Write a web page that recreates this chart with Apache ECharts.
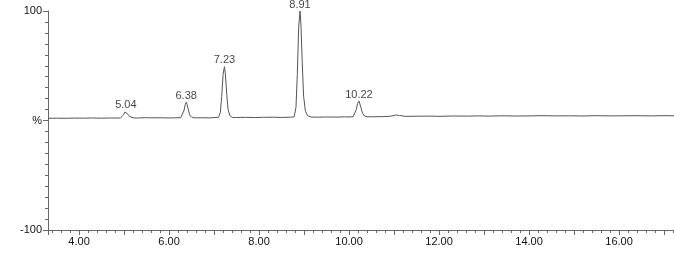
<!DOCTYPE html>
<html>
<head>
<meta charset="utf-8">
<script src="https://cdn.jsdelivr.net/npm/echarts@6/dist/echarts.min.js"></script>
<style>
html,body{margin:0;padding:0;background:#fff;}
#c{width:674px;height:255px;}
</style>
</head>
<body>
<div id="c"></div>
<script>
// Retention time (min) and signal (%)
var times = [
  3.31, 3.5, 3.7, 3.9, 4.1, 4.3, 4.5, 4.7, 4.85,
  4.92, 4.96, 4.99, 5.02, 5.04, 5.06, 5.09, 5.12, 5.16, 5.22,
  5.3, 5.5, 5.6, 5.8, 6.0, 6.15,
  6.26, 6.30, 6.33, 6.36, 6.38, 6.40, 6.43, 6.46, 6.50, 6.56,
  6.7, 6.9, 7.02,
  7.10, 7.14, 7.17, 7.20, 7.23, 7.25, 7.28, 7.31, 7.35, 7.41,
  7.5, 7.7, 7.9, 8.1, 8.3, 8.5, 8.7,
  8.78, 8.82, 8.85, 8.88, 8.91, 8.93, 8.96, 8.99, 9.03, 9.08, 9.15,
  9.3, 9.5, 9.7, 9.9, 10.0,
  10.09, 10.13, 10.16, 10.19, 10.22, 10.24, 10.27, 10.30, 10.34, 10.40,
  10.5, 10.7, 10.9, 11.05, 11.12, 11.25, 11.5, 11.8, 12.0, 12.3, 12.6,
  12.9, 13.1, 13.4, 13.7, 14.0, 14.3, 14.6, 14.9, 15.2, 15.5, 15.8,
  16.1, 16.4, 16.7, 17.0, 17.22
];
var signal = [
  2.0, 2.1, 2.0, 2.2, 2.1, 2.3, 2.1, 2.3, 2.2,
  2.4, 3.0, 5.2, 7.8, 8.7, 7.9, 5.6, 3.6, 2.6, 2.3,
  2.3, 2.6, 2.4, 2.5, 2.3, 2.5,
  2.6, 4.2, 8.9, 14.5, 16.6, 14.6, 9.6, 5.0, 3.1, 2.4,
  2.5, 2.4, 2.7,
  2.9, 7.5, 22, 42, 49.1, 43, 25, 10.5, 4.5, 2.8,
  2.7, 2.9, 2.7, 2.9, 3.0, 2.8, 3.0,
  3.4, 12, 42, 85, 100, 88, 52, 22, 8.5, 4.4, 3.2,
  3.0, 3.2, 3.1, 3.3, 3.2,
  3.5, 5.2, 10, 15.6, 17.8, 16, 11, 6.4, 4.2, 3.4,
  3.4, 3.5, 3.8, 5.0, 4.6, 3.8, 3.9, 4.0, 3.8, 4.1, 4.0,
  4.2, 4.0, 4.3, 4.1, 4.2, 4.4, 4.2, 4.3, 4.1, 4.4, 4.2,
  4.3, 4.4, 4.2, 4.4, 4.3
];
// Peak labels
var peakTimes = [5.04, 6.38, 7.23, 8.91, 10.22];
var peakHeights = [8.7, 16.6, 49.1, 100, 17.8];
var peakLabels = ['5.04', '6.38', '7.23', '8.91', '10.22'];

var trace = times.map(function (t, i) { return [t, signal[i]]; });
var peaks = peakTimes.map(function (t, i) { return [t, peakHeights[i], peakLabels[i]]; });

var axisColor = '#666';
var textColor = '#111';
var font = 'Liberation Sans, Arial, sans-serif';

var chart = echarts.init(document.getElementById('c'));
chart.setOption({
  animation: false,
  backgroundColor: '#fff',
  grid: { left: 48, right: 0, top: 11, bottom: 25, containLabel: false },
  xAxis: [
    {
      type: 'value', min: 3.31, max: 17.22, splitNumber: 14, position: 'bottom',
      axisLine: { show: true, onZero: false, lineStyle: { color: axisColor, width: 1 } },
      axisTick: { show: true, length: 5, lineStyle: { color: axisColor } },
      minorTick: { show: true, splitNumber: 5, length: 3, lineStyle: { color: axisColor } },
      axisLabel: {
        show: true, margin: 6, color: textColor, fontSize: 11, fontFamily: font,
        showMinLabel: false, showMaxLabel: false,
        formatter: function (v) {
          var r = Math.round(v);
          if (Math.abs(v - r) < 1e-6 && r % 2 === 0) return r.toFixed(2);
          return '';
        }
      },
      splitLine: { show: false },
      minorSplitLine: { show: false }
    }
  ],
  yAxis: [
    {
      type: 'value', min: -100, max: 100, interval: 10, position: 'left',
      axisLine: { show: true, onZero: false, lineStyle: { color: axisColor, width: 1 } },
      axisTick: { show: true, length: 3, lineStyle: { color: axisColor } },
      axisLabel: { show: false },
      splitLine: { show: false }
    },
    {
      type: 'value', min: -100, max: 100, interval: 100, position: 'left',
      axisLine: { show: false, onZero: false },
      axisTick: { show: true, length: 5, lineStyle: { color: axisColor } },
      axisLabel: {
        show: true, margin: 6, color: textColor, fontSize: 11, fontFamily: font,
        formatter: function (v) { return v === 0 ? '%' : String(v); }
      },
      splitLine: { show: false }
    }
  ],
  series: [
    {
      type: 'line', data: trace, xAxisIndex: 0, yAxisIndex: 0,
      showSymbol: false, symbol: 'none', clip: true,
      lineStyle: { color: '#555', width: 1 }
    },
    {
      type: 'scatter', data: peaks, xAxisIndex: 0, yAxisIndex: 0,
      symbolSize: 0, silent: true, clip: false,
      label: {
        show: true, position: 'top', distance: 1, color: textColor,
        fontSize: 11, fontFamily: font,
        formatter: function (p) { return p.data[2]; }
      }
    }
  ]
});
</script>
</body>
</html>
